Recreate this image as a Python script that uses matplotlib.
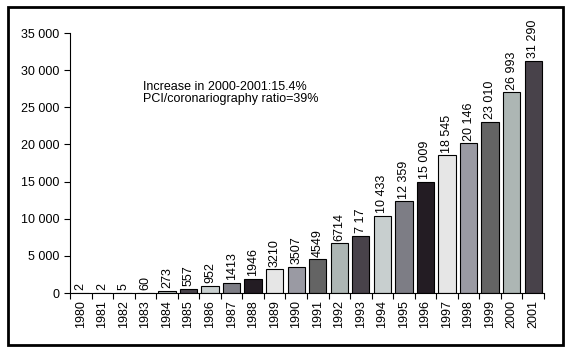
import matplotlib
matplotlib.use("Agg")
import matplotlib.pyplot as plt
from matplotlib.patches import Rectangle

# --- Data ---
years = [str(y) for y in range(1980, 2002)]
values = [2, 2, 5, 60, 273, 557, 952, 1413, 1946, 3210, 3507,
          4549, 6714, 7717, 10433, 12359, 15009, 18545, 20146, 23010, 26993, 31290]
value_labels = ["2", "2", "5", "60", "273", "557", "952", "1413", "1946", "3210", "3507",
                "4549", "6714", "7 17", "10 433", "12 359", "15 009", "18 545", "20 146",
                "23 010", "26 993", "31 290"]
yticks = [0, 5000, 10000, 15000, 20000, 25000, 30000, 35000]
ytick_labels = ["0", "5 000", "10 000", "15 000", "20 000", "25 000", "30 000", "35 000"]
note = "Increase in 2000-2001:15.4%\nPCI/coronariography ratio=39%"

# repeating grey palette
palette = ["#e6e6e6", "#9a9aa3", "#646464", "#adb6b4",
           "#48424a", "#c8cfcf", "#7d7d85", "#231c23"]
colors = [palette[(i - 9) % 8] for i in range(len(years))]

plt.rcParams['font.family'] = ['Liberation Sans Narrow', 'Liberation Sans', 'DejaVu Sans']

fig = plt.figure(figsize=(5.71, 3.52), dpi=100)
ax = fig.add_axes([0.1226, 0.1676, 0.830, 0.7386])

x = list(range(len(years)))
ax.bar(x, values, width=0.8, color=colors, edgecolor="black", linewidth=0.8)

for xi, v, lab in zip(x, values, value_labels):
    ax.text(xi, v + 350, lab, rotation=90, ha="center", va="bottom", fontsize=9)

ax.set_xlim(-0.5, len(years) - 0.5)
ax.set_ylim(0, 35000)
ax.set_yticks(yticks)
ax.set_yticklabels(ytick_labels, fontsize=9)

ax.set_xticks([i - 0.5 for i in range(len(years) + 1)])
ax.set_xticklabels([])
ax.set_xticks(x, minor=True)
ax.set_xticklabels(years, minor=True, rotation=90, fontsize=9)
ax.tick_params(axis="x", which="minor", length=0, pad=5)
ax.tick_params(axis="both", which="major", length=4, width=0.8, direction="out")

for s in ["top", "right"]:
    ax.spines[s].set_visible(False)
ax.spines["left"].set_linewidth(0.8)
ax.spines["bottom"].set_linewidth(0.8)

ax.text(0.153, 0.815, note, transform=ax.transAxes, fontsize=9, va="top", linespacing=1.0)

fig.patches.append(Rectangle((8 / 571, 7 / 352), 555 / 571, 338 / 352,
                             transform=fig.transFigure, fill=False,
                             edgecolor="black", linewidth=2))

fig.savefig("out.png", dpi=100)
